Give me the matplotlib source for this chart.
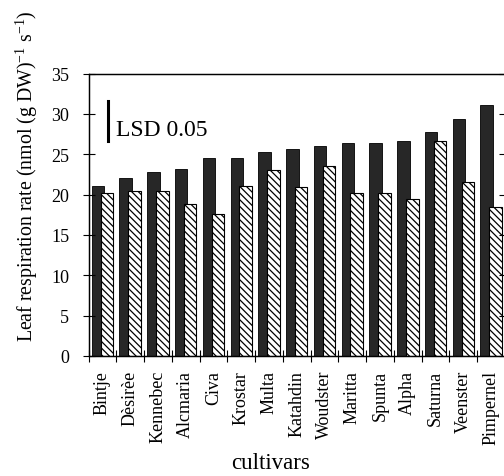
import matplotlib
matplotlib.use("Agg")
import matplotlib.pyplot as plt
import numpy as np

cultivars = ["Bintje", "Dèsirèe", "Kennebec", "Alcmaria", "Civa", "Krostar",
             "Multa", "Katahdin", "Woudster", "Maritta", "Spunta", "Alpha",
             "Saturna", "Veenster", "Pimpernel"]
dark_vals = [21.1, 22.0, 22.8, 23.2, 24.5, 24.5, 25.3, 25.6, 26.0, 26.4,
             26.4, 26.6, 27.7, 29.4, 31.1]
hatch_vals = [20.2, 20.5, 20.5, 18.8, 17.6, 21.1, 23.1, 20.9, 23.5, 20.2,
              20.2, 19.4, 26.6, 21.6, 18.5]
yticks = [0, 5, 10, 15, 20, 25, 30, 35]
lsd_low, lsd_high = 26.6, 31.6

plt.rcParams['font.family'] = ['Liberation Serif', 'DejaVu Serif']
plt.rcParams['hatch.linewidth'] = 0.9

fig = plt.figure(figsize=(5.04, 4.77), dpi=100)
ax = fig.add_axes([88.5 / 504, 1 - 357 / 477, 416.5 / 504, (357 - 74.5) / 477])

x = np.arange(len(cultivars))
w = 0.45
ax.bar(x - 0.16, dark_vals, w, color='#272727', edgecolor='black', linewidth=0.6)
ax.bar(x + 0.16, hatch_vals, w, color='white', edgecolor='black', linewidth=0.8,
       hatch='\\\\\\\\\\')

ax.set_xlim(-0.5, len(cultivars) - 0.5)
ax.set_ylim(0, 35)
ax.set_yticks(yticks)
ax.tick_params(axis='y', direction='inout', length=8, width=0.8, labelsize=13, pad=10)

ax.set_xticks(np.arange(len(cultivars) + 1) - 0.5)
ax.set_xticklabels([])
ax.tick_params(axis='x', which='major', direction='inout', length=9, width=0.8)
ax.set_xticks(x, cultivars, minor=True, rotation=90, fontsize=13)
ax.tick_params(axis='x', which='minor', length=0, pad=10)

ax2 = ax.twinx()
ax2.set_ylim(0, 35)
ax2.set_yticks(yticks)
ax2.tick_params(direction='in', length=4, labelright=False)

for a in (ax, ax2):
    for s in a.spines.values():
        s.set_linewidth(0.9)

ax.plot([0.19, 0.19], [lsd_low, lsd_high], color='black', lw=2.2)
ax.text(0.5, 28.1, "LSD 0.05", fontsize=17, va='center')

ax.set_xlabel("cultivars", fontsize=16.5)
ax.xaxis.set_label_coords(0.436, -0.34)
fig.text(27 / 504, 1 - 176 / 477,
         r"Leaf respiration rate (nmol (g DW)$^{\mathregular{-1}}$ s$^{\mathregular{-1}}$)",
         rotation=90, ha='center', va='center', fontsize=14.3)

fig.savefig("out.png", dpi=100)
